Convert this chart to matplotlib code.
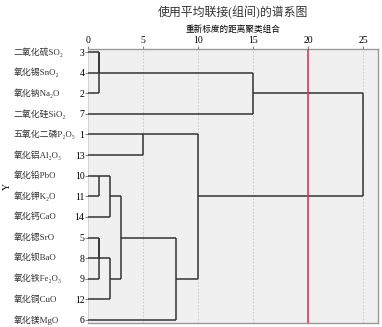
import math

import matplotlib
matplotlib.use("Agg")
import matplotlib.pyplot as plt
from matplotlib.transforms import blended_transform_factory

plt.rcParams["font.family"] = ["Liberation Serif", "Noto Sans CJK SC", "DejaVu Sans"]

TITLE = "使用平均联接(组间)的谱系图"
XLABEL = "重新标度的距离聚类组合"

# leaves in display order (top to bottom)
leaf_cases = [3, 4, 2, 7, 1, 13, 10, 11, 14, 5, 8, 9, 12, 6]
leaf_names = ["二氧化硫SO₂", "氧化锡SnO₂", "氧化钠Na₂O", "二氧化硅SiO₂",
              "五氧化二磷P₂O₅", "氧化铝Al₂O₃", "氧化铅PbO", "氧化钾K₂O",
              "氧化钙CaO", "氧化锶SrO", "氧化钡BaO", "氧化铁Fe₂O₃",
              "氧化铜CuO", "氧化镁MgO"]

# merges, scipy-style: nodes 0..13 are leaf rows, merge k creates node 14+k
merge_a = [0, 14, 15, 4, 6, 18, 9, 20, 21, 19, 23, 17, 16]
merge_b = [1, 2, 3, 5, 7, 8, 10, 11, 12, 22, 13, 24, 25]
merge_dist = [1, 1, 15, 5, 1, 2, 1, 1, 2, 3, 8, 10, 25]

cut_level = 20
x_ticks = [0, 5, 10, 15, 20, 25]

fig = plt.figure(figsize=(3.82, 3.27), dpi=100)
ax = fig.add_axes([88 / 382, 1 - 323 / 327, 290 / 382, 274 / 327])
ax.set_facecolor("#f0f0f0")

n = len(leaf_cases)
pos = {i: i for i in range(n)}
hx = {i: 0 for i in range(n)}
lc = "#333333"
lw = 1.1
for k, (a, b, d) in enumerate(zip(merge_a, merge_b, merge_dist)):
    for c in (a, b):
        ax.plot([hx[c], d], [pos[c], pos[c]], color=lc, lw=lw, zorder=3,
                solid_capstyle="butt")
    ax.plot([d, d], [pos[a], pos[b]], color=lc, lw=lw, zorder=3,
            solid_capstyle="butt")
    node = n + k
    pos[node] = math.floor((pos[a] + pos[b]) / 2)
    hx[node] = d

for t in x_ticks[1:]:
    if t != cut_level:
        ax.axvline(t, color="#c4c4c4", lw=0.6, ls=(0, (2, 2)), zorder=1)
ax.axvline(cut_level, color="#e8344e", lw=1.2, zorder=4)

ax.set_xlim(0, 26.36)
ax.set_ylim(n - 1 + 0.15, -0.15)

ax.xaxis.tick_top()
ax.set_xticks(x_ticks)
ax.set_xticklabels([str(t) for t in x_ticks], fontsize=7)
ax.tick_params(axis="x", length=2, pad=1, color="#888888")
ax.set_xlabel(XLABEL, fontsize=6.2)
ax.xaxis.set_label_position("top")
ax.xaxis.labelpad = 3

ax.set_yticks(range(n))
ax.set_yticklabels([str(c) for c in leaf_cases], fontsize=7)
ax.tick_params(axis="y", length=2, pad=0.5, color="#888888")

trans = blended_transform_factory(fig.transFigure, ax.transData)
for i, name in enumerate(leaf_names):
    ax.text(14 / 382, i, name, transform=trans, ha="left", va="center",
            fontsize=6.4, color="#333333")

for side in ("top", "right", "bottom"):
    ax.spines[side].set_color("#9a9a9a")
    ax.spines[side].set_linewidth(1.0)
ax.spines["left"].set_color("#d0d0d0")
ax.spines["left"].set_linewidth(0.6)

fig.text(7 / 382, 1 - 186 / 327, "Y", rotation=90, ha="center", va="center",
         fontsize=7)
fig.text(233 / 382, 1 - 13 / 327, TITLE, ha="center", va="center", fontsize=8.6,
         color="#333333")

fig.savefig("out.png", dpi=100)
